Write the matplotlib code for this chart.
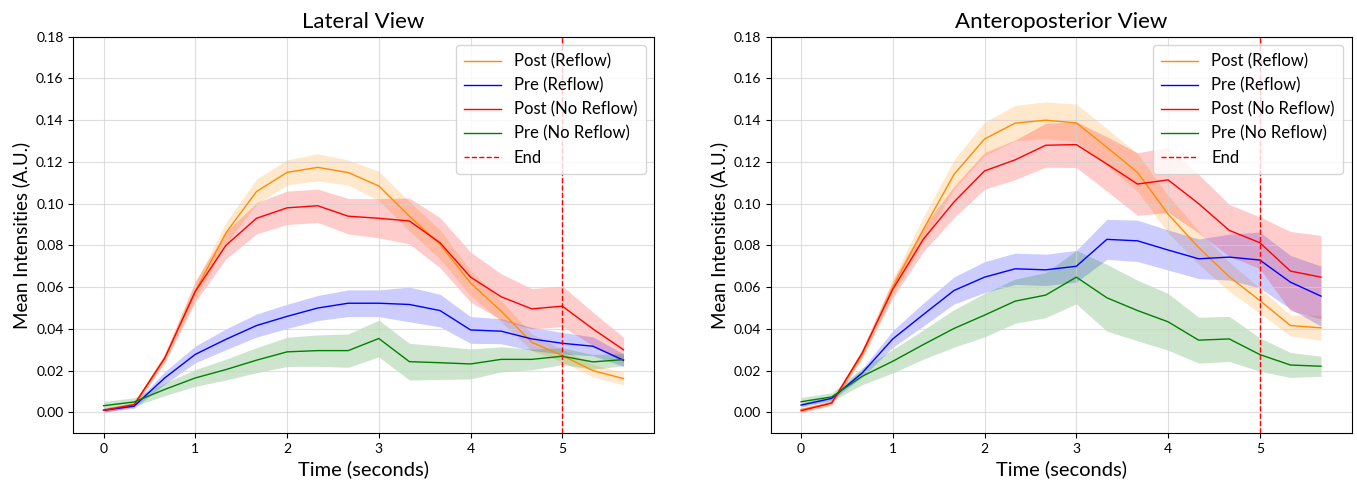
import numpy as np
import matplotlib
matplotlib.use("Agg")
import matplotlib.pyplot as plt

plt.rcParams['font.family'] = ['Lato', 'DejaVu Sans']

time = [0, 1/3, 2/3, 1, 4/3, 5/3, 2, 7/3, 8/3, 3, 10/3, 11/3, 4, 13/3, 14/3, 5, 16/3, 17/3]

# Lateral view
lat_post_reflow = [0.001, 0.0037, 0.026, 0.058, 0.086, 0.1058, 0.115, 0.1174, 0.1149, 0.1085,
                   0.094, 0.0805, 0.062, 0.0485, 0.0336, 0.0272, 0.020, 0.0162]
lat_post_reflow_err = [0.001, 0.001, 0.002, 0.004, 0.005, 0.006, 0.006, 0.0065, 0.006, 0.007,
                       0.007, 0.007, 0.006, 0.005, 0.004, 0.003, 0.003, 0.003]
lat_pre_reflow = [0.001, 0.003, 0.0165, 0.0278, 0.035, 0.0416, 0.046, 0.050, 0.0523, 0.0523,
                  0.0517, 0.0488, 0.0395, 0.0389, 0.0352, 0.0331, 0.0317, 0.025]
lat_pre_reflow_err = [0.001, 0.001, 0.003, 0.004, 0.005, 0.0055, 0.0058, 0.006, 0.0064, 0.0064,
                      0.0083, 0.0078, 0.0064, 0.006, 0.0055, 0.0052, 0.0045, 0.003]
lat_post_noreflow = [0.001, 0.0037, 0.026, 0.058, 0.080, 0.093, 0.098, 0.099, 0.094, 0.093,
                     0.0917, 0.0813, 0.0648, 0.0554, 0.0496, 0.0509, 0.040, 0.030]
lat_post_noreflow_err = [0.001, 0.001, 0.002, 0.005, 0.0065, 0.0075, 0.008, 0.008, 0.0085, 0.0094,
                         0.011, 0.012, 0.012, 0.011, 0.0097, 0.0097, 0.008, 0.006]
lat_pre_noreflow = [0.0032, 0.005, 0.011, 0.0165, 0.0205, 0.025, 0.029, 0.0296, 0.0296, 0.0354,
                    0.0243, 0.0238, 0.0232, 0.0254, 0.0254, 0.0269, 0.0242, 0.0253]
lat_pre_noreflow_err = [0.002, 0.002, 0.003, 0.004, 0.005, 0.006, 0.007, 0.0075, 0.008, 0.0088,
                        0.0088, 0.008, 0.0072, 0.006, 0.005, 0.004, 0.0035, 0.003]

# Anteroposterior view
ap_post_reflow = [0.0013, 0.0045, 0.0277, 0.060, 0.0877, 0.114, 0.131, 0.1386, 0.140, 0.1387,
                  0.127, 0.115, 0.095, 0.079, 0.065, 0.0536, 0.0416, 0.0405]
ap_post_reflow_err = [0.001, 0.001, 0.002, 0.004, 0.006, 0.007, 0.008, 0.0085, 0.0088, 0.009,
                      0.009, 0.009, 0.009, 0.008, 0.007, 0.006, 0.005, 0.006]
ap_pre_reflow = [0.0035, 0.0067, 0.0189, 0.0352, 0.0469, 0.0584, 0.0648, 0.0688, 0.0683, 0.070,
                 0.0829, 0.0822, 0.0778, 0.0736, 0.0744, 0.073, 0.0624, 0.0557]
ap_pre_reflow_err = [0.001, 0.001, 0.002, 0.004, 0.0055, 0.0065, 0.0074, 0.0075, 0.0075, 0.0076,
                     0.0096, 0.0099, 0.0096, 0.0095, 0.011, 0.0134, 0.0128, 0.0144]
ap_post_noreflow = [0.0008, 0.0045, 0.0285, 0.059, 0.083, 0.1008, 0.1157, 0.121, 0.128, 0.1283,
                    0.119, 0.1094, 0.1114, 0.100, 0.0872, 0.0813, 0.0677, 0.0648]
ap_post_noreflow_err = [0.001, 0.001, 0.002, 0.004, 0.006, 0.0075, 0.0088, 0.0095, 0.0105, 0.011,
                        0.013, 0.015, 0.0156, 0.014, 0.0124, 0.0124, 0.019, 0.020]
ap_pre_noreflow = [0.0051, 0.0074, 0.0173, 0.0245, 0.0325, 0.0402, 0.0466, 0.0533, 0.0562, 0.0648,
                   0.0549, 0.0488, 0.0434, 0.0346, 0.0352, 0.0277, 0.0227, 0.0221]
ap_pre_noreflow_err = [0.002, 0.002, 0.004, 0.0056, 0.007, 0.009, 0.0104, 0.0106, 0.0108, 0.0128,
                       0.016, 0.0145, 0.0136, 0.011, 0.0108, 0.008, 0.006, 0.0048]

end_time = 5

views = {
    "Lateral View": [
        ("Post (Reflow)", "darkorange", lat_post_reflow, lat_post_reflow_err),
        ("Pre (Reflow)", "blue", lat_pre_reflow, lat_pre_reflow_err),
        ("Post (No Reflow)", "red", lat_post_noreflow, lat_post_noreflow_err),
        ("Pre (No Reflow)", "green", lat_pre_noreflow, lat_pre_noreflow_err),
    ],
    "Anteroposterior View": [
        ("Post (Reflow)", "darkorange", ap_post_reflow, ap_post_reflow_err),
        ("Pre (Reflow)", "blue", ap_pre_reflow, ap_pre_reflow_err),
        ("Post (No Reflow)", "red", ap_post_noreflow, ap_post_noreflow_err),
        ("Pre (No Reflow)", "green", ap_pre_noreflow, ap_pre_noreflow_err),
    ],
}

fig = plt.figure(figsize=(13.57, 4.83), dpi=100)
positions = [[0.054, 0.103, 0.428, 0.821], [0.568, 0.103, 0.428, 0.821]]
t = np.array(time)
for pos, (title, series) in zip(positions, views.items()):
    ax = fig.add_axes(pos)
    for label, color, vals, errs in series:
        v = np.array(vals)
        e = np.array(errs)
        ax.plot(t, v, color=color, lw=1.0, label=label)
        ax.fill_between(t, v - e, v + e, color=color, alpha=0.2, lw=0)
    ax.axvline(end_time, color='red', ls='--', lw=1.0, label='End')
    ax.set_xlim(-0.33, 6.0)
    ax.set_ylim(-0.01, 0.18)
    ax.set_yticks(np.arange(0, 0.181, 0.02))
    ax.set_xticks(range(0, 6))
    ax.grid(True, color='#d0d0d0', alpha=0.7, lw=0.8)
    ax.set_title(title, fontsize=16)
    ax.set_xlabel("Time (seconds)", fontsize=14.5)
    ax.set_ylabel("Mean Intensities (A.U.)", fontsize=13.5)
    ax.tick_params(labelsize=10)
    ax.legend(loc='upper right', fontsize=12, labelspacing=0.48,
              handlelength=2.2, borderpad=0.5)

fig.savefig("out.png", dpi=100)
